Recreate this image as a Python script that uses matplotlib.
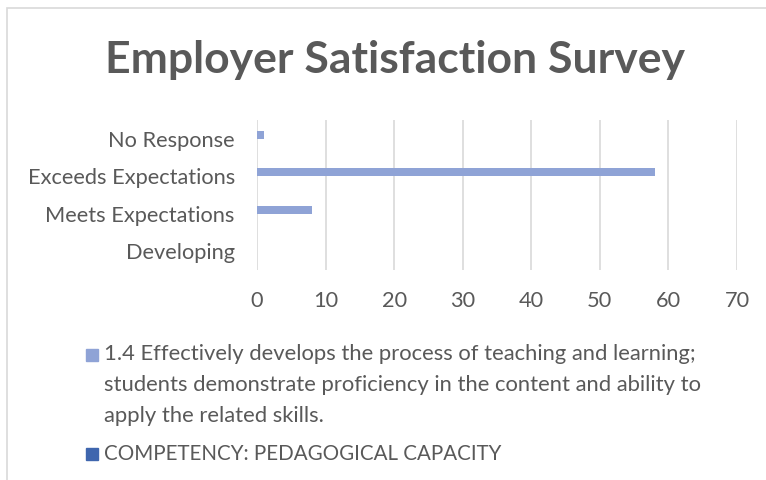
import numpy as np
import matplotlib
matplotlib.use("Agg")
import matplotlib.pyplot as plt
from matplotlib.patches import Rectangle

plt.rcParams['font.family'] = ['Lato', 'DejaVu Sans']

categories = ['Developing', 'Meets Expectations', 'Exceeds Expectations', 'No Response']
item_values = [0, 8, 58, 1]
competency_values = [0, 0, 0, 0]
series_names = ['1.4 Effectively develops the process of teaching and learning;\n'
                'students demonstrate proficiency in the content and ability to\n'
                'apply the related skills.',
                'COMPETENCY: PEDAGOGICAL CAPACITY']
xticks = [0, 10, 20, 30, 40, 50, 60, 70]

txt = '#595959'
c1 = '#8FA3D6'
c2 = '#3F66AE'

fig = plt.figure(figsize=(7.66, 4.8), dpi=100)
# chart border
fig.patches.append(Rectangle((7 / 766, -0.1), 1.0, 1 - 8 / 480 + 0.1,
                             transform=fig.transFigure, fill=False,
                             edgecolor='#d9d9d9', lw=1.2))

ax = fig.add_axes([257 / 766, 1 - 270 / 480, 480 / 766, 150 / 480])
y = np.arange(len(categories))
h = 0.21
ax.barh(y + h / 2, item_values, height=h, color=c1)
ax.barh(y - h / 2, competency_values, height=h, color=c2)

ax.set_xlim(0, 70)
ax.set_ylim(-0.5, 3.5)
ax.set_xticks(xticks)
ax.set_yticks(y)
ax.set_yticklabels(categories)
ax.grid(axis='x', color='#d9d9d9', lw=1.2)
ax.set_axisbelow(True)
for s in ax.spines.values():
    s.set_visible(False)
ax.tick_params(length=0, labelcolor=txt, labelsize=15.7)
ax.tick_params(axis='x', pad=15)
ax.tick_params(axis='y', pad=16)

fig.text(395 / 766, 1 - 60 / 480, 'Employer Satisfaction Survey', ha='center', va='center',
         fontsize=32, fontweight='bold', color=txt)

# legend
fig.patches.append(Rectangle((86 / 766, 1 - 361 / 480), 12 / 766, 12 / 480,
                             transform=fig.transFigure, color=c1))
fig.text(104 / 766, 1 - 344 / 480, series_names[0], ha='left', va='top',
         fontsize=15.8, color=txt, linespacing=1.69)
fig.patches.append(Rectangle((86 / 766, 1 - 460 / 480), 12 / 766, 12 / 480,
                             transform=fig.transFigure, color=c2))
fig.text(104 / 766, 1 - 454 / 480, series_names[1], ha='left', va='center',
         fontsize=14.8, color=txt)

fig.savefig('out.png', dpi=100)
